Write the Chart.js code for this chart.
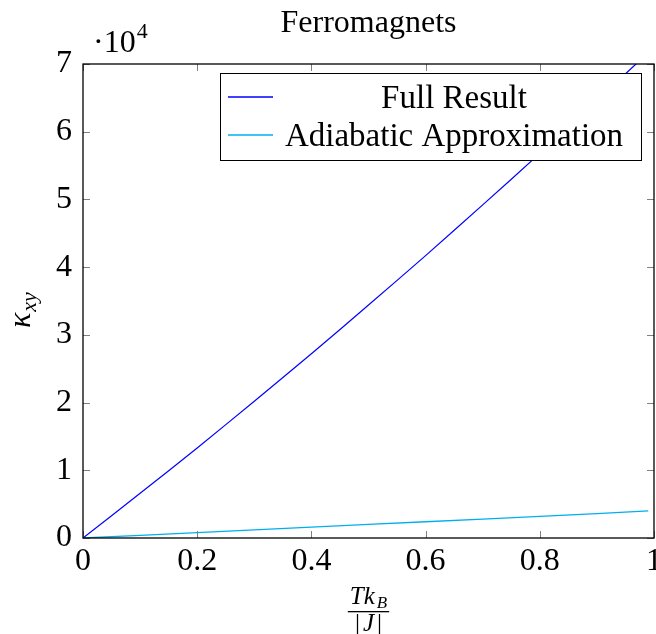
<!DOCTYPE html>
<html>
<head>
<meta charset="utf-8">
<script src="https://cdn.jsdelivr.net/npm/chart.js@4.4.0/dist/chart.umd.min.js"></script>
<style>
  html, body { margin: 0; padding: 0; background: #fff; }
  #wrap { width: 656px; height: 634px; }
</style>
</head>
<body>
<div id="wrap"><canvas id="myChart" width="656" height="634"></canvas></div>
<script>
// values (y in units of 10^4)
const xValues = [0, 0.1, 0.2, 0.3, 0.4, 0.5, 0.6, 0.7, 0.8, 0.9, 0.99];
const fullResult = [0, 0.66, 1.33, 2.02, 2.72, 3.44, 4.17, 4.92, 5.68, 6.46, 7.17];
const adiabatic = [0, 0.04, 0.08, 0.12, 0.16, 0.20, 0.24, 0.28, 0.32, 0.36, 0.40];
const xTicks = [0, 0.2, 0.4, 0.6, 0.8, 1];
const yTicks = [0, 1, 2, 3, 4, 5, 6, 7];

const serif = '"Liberation Serif", "DejaVu Serif", serif';
const fullColor = 'rgb(0, 0, 255)';
const adiaColor = 'rgb(0, 174, 239)';

function toPoints(ys) {
  return xValues.map((x, i) => ({ x: x, y: ys[i] }));
}

// frame, inward tick marks, titles and boxed legend like pgfplots
const decorations = {
  id: 'decorations',
  afterDatasetsDraw(chart) {
    const ctx = chart.ctx;
    const a = chart.chartArea;
    const xs = chart.scales.x, ys = chart.scales.y;
    ctx.save();

    // tick marks
    ctx.strokeStyle = '#808080';
    ctx.lineWidth = 1;
    ctx.beginPath();
    xTicks.forEach(v => {
      const px = Math.round(xs.getPixelForValue(v)) + 0.5;
      ctx.moveTo(px, a.bottom); ctx.lineTo(px, a.bottom - 7);
      ctx.moveTo(px, a.top); ctx.lineTo(px, a.top + 7);
    });
    yTicks.forEach(v => {
      const py = Math.round(ys.getPixelForValue(v)) + 0.5;
      ctx.moveTo(a.left, py); ctx.lineTo(a.left + 7, py);
      ctx.moveTo(a.right, py); ctx.lineTo(a.right - 7, py);
    });
    ctx.stroke();

    // frame
    ctx.strokeStyle = '#000';
    ctx.lineWidth = 1.3;
    ctx.strokeRect(a.left, a.top, a.right - a.left, a.bottom - a.top);

    // title
    ctx.fillStyle = '#000';
    ctx.textAlign = 'center';
    ctx.textBaseline = 'alphabetic';
    ctx.font = '32px ' + serif;
    ctx.fillText('Ferromagnets', (a.left + a.right) / 2, 32);

    // scale factor ·10^4
    ctx.textAlign = 'left';
    ctx.font = '32px ' + serif;
    ctx.fillText('\u00b710', 93, 52);
    const tw = ctx.measureText('\u00b710').width;
    ctx.font = '22px ' + serif;
    ctx.fillText('4', 93 + tw + 1, 38);

    // y label kappa_xy
    ctx.save();
    ctx.translate(30, 328);
    ctx.rotate(-Math.PI / 2);
    ctx.textAlign = 'left';
    ctx.font = 'italic 32px ' + serif;
    const kw = ctx.measureText('\u03ba').width;
    ctx.fillText('\u03ba', 0, 0);
    ctx.font = 'italic 22px ' + serif;
    ctx.fillText('xy', kw + 1, 6);
    ctx.restore();

    // x label Tk_B / |J|
    const cx = (a.left + a.right) / 2;
    ctx.font = 'italic 25px ' + serif;
    const tkw = ctx.measureText('Tk').width;
    ctx.font = 'italic 17px ' + serif;
    const bw = ctx.measureText('B').width;
    const numW = tkw + bw + 2;
    ctx.textAlign = 'left';
    ctx.font = 'italic 25px ' + serif;
    ctx.fillText('Tk', cx - numW / 2, 604);
    ctx.font = 'italic 17px ' + serif;
    ctx.fillText('B', cx - numW / 2 + tkw + 2, 608);
    ctx.fillRect(cx - numW / 2 - 2, 611, numW + 4, 1.3);
    ctx.textAlign = 'center';
    ctx.font = '25px ' + serif;
    ctx.fillText('|', cx - 11, 631);
    ctx.fillText('|', cx + 11, 631);
    ctx.font = 'italic 25px ' + serif;
    ctx.fillText('J', cx, 631);

    // legend box
    const lx = 220, ly = 73, lw = 421, lh = 87;
    ctx.fillStyle = '#fff';
    ctx.fillRect(lx, ly, lw, lh);
    ctx.strokeStyle = '#000';
    ctx.lineWidth = 1;
    ctx.strokeRect(lx + 0.5, ly + 0.5, lw, lh);
    ctx.font = '33px ' + serif;
    ctx.textAlign = 'center';
    const legendColors = [fullColor, adiaColor];
    chart.data.datasets.forEach((ds, i) => {
      const yy = 97 + i * 38;
      ctx.strokeStyle = legendColors[i];
      ctx.lineWidth = 1.3;
      ctx.beginPath();
      ctx.moveTo(228, yy);
      ctx.lineTo(273, yy);
      ctx.stroke();
      ctx.fillStyle = '#000';
      ctx.fillText(ds.label, 454, yy + 11);
    });
    ctx.restore();
  }
};

const data = {
  datasets: [{
    label: 'Full Result',
    data: toPoints(fullResult),
    borderColor: fullColor,
    backgroundColor: fullColor,
    borderWidth: 1.2,
    pointRadius: 0,
    tension: 0.3
  }, {
    label: 'Adiabatic Approximation',
    data: toPoints(adiabatic),
    borderColor: adiaColor,
    backgroundColor: adiaColor,
    borderWidth: 1.3,
    pointRadius: 0,
    tension: 0
  }]
};

const config = {
  type: 'line',
  data: data,
  plugins: [decorations],
  options: {
    responsive: false,
    animation: false,
    layout: { padding: { top: 64, right: 2, left: 0, bottom: 0 } },
    plugins: {
      legend: { display: false },
      tooltip: { enabled: false }
    },
    scales: {
      x: {
        type: 'linear',
        min: 0,
        max: 1,
        grid: { display: false, drawTicks: false },
        border: { display: false },
        afterBuildTicks: (scale) => { scale.ticks = xTicks.map(v => ({ value: v })); },
        afterFit: (scale) => {
          scale.height = 96;
          scale.paddingLeft = 0;
          scale.paddingRight = 0;
        },
        ticks: {
          color: '#000',
          padding: 4,
          maxRotation: 0,
          font: { family: serif, size: 32 },
          callback: (v) => String(v)
        }
      },
      y: {
        type: 'linear',
        min: 0,
        max: 7,
        grid: { display: false, drawTicks: false },
        border: { display: false },
        afterBuildTicks: (scale) => { scale.ticks = yTicks.map(v => ({ value: v })); },
        afterFit: (scale) => {
          scale.width = 83;
          scale.paddingTop = 0;
          scale.paddingBottom = 0;
        },
        ticks: {
          color: '#000',
          padding: 11,
          font: { family: serif, size: 32 },
          callback: (v) => String(v)
        }
      }
    }
  }
};

const myChart = new Chart(document.getElementById('myChart'), config);
</script>
</body>
</html>
